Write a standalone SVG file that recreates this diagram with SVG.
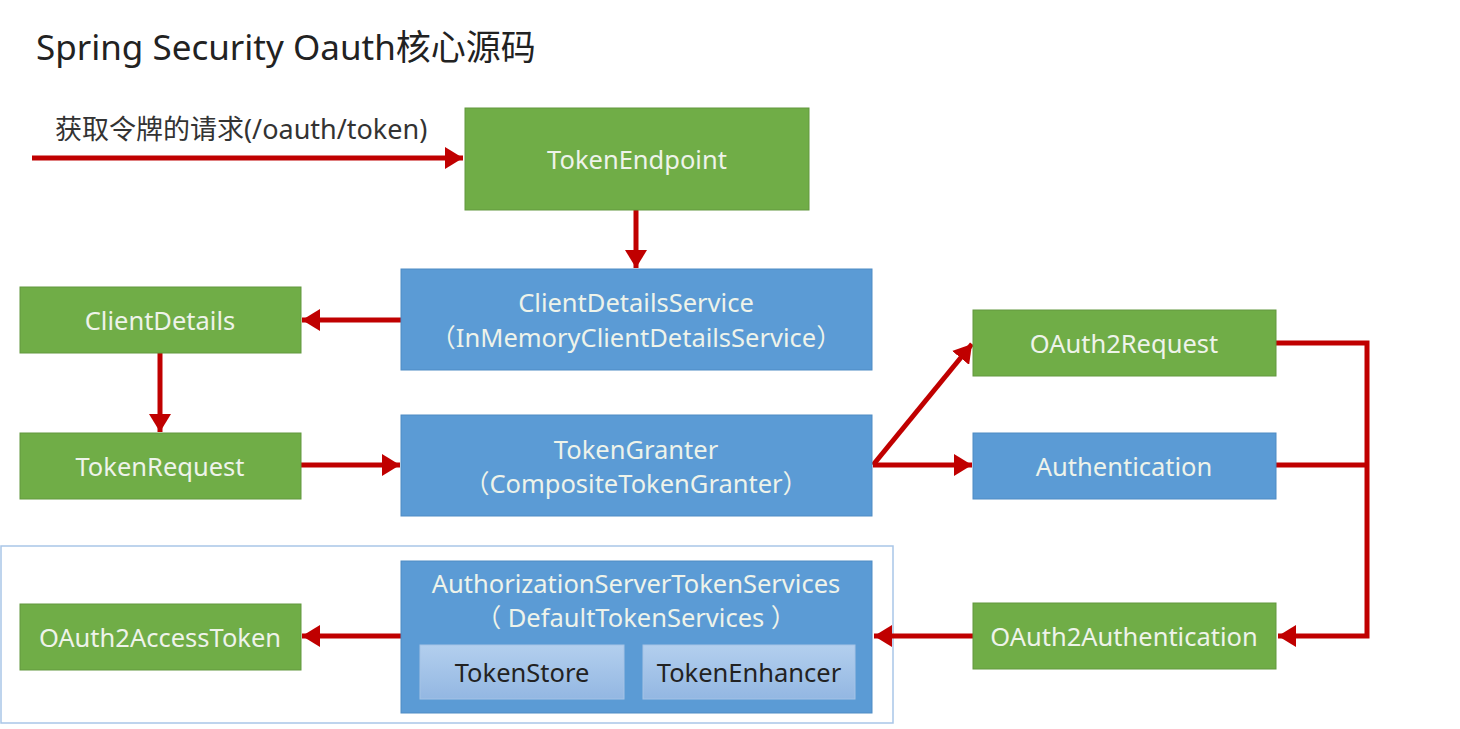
<svg xmlns="http://www.w3.org/2000/svg" width="1460" height="729" viewBox="0 0 1460 729">
<defs>
<marker id="ah" markerUnits="userSpaceOnUse" markerWidth="20" markerHeight="22" refX="18" refY="11" orient="auto">
<path d="M0,0 L18,11 L0,22 Z" fill="#c00000"/>
</marker>
<linearGradient id="inner" x1="0" y1="0" x2="0" y2="1">
<stop offset="0" stop-color="#b3cfee"/>
<stop offset="1" stop-color="#93b7e2"/>
</linearGradient>
</defs>
<style>
text{font-family:"Noto Sans","Noto Sans CJK SC",sans-serif}
.g{fill:#70ad47;stroke:#62983e;stroke-width:1}
.b{fill:#5b9bd5;stroke:#4f8bc4;stroke-width:1}
.in{fill:url(#inner);stroke:#a5c3e6;stroke-width:1}
.t{fill:#eef3ea;font-size:25.5px;text-anchor:middle}
.d{fill:#222;font-size:25.5px;text-anchor:middle}
.c{fill:none;stroke:#c00000;stroke-width:5}
</style>
<rect width="1460" height="729" fill="#ffffff"/>
<text x="36" y="60" font-size="35" fill="#222">Spring Security Oauth核心源码</text>
<text x="55" y="139" font-size="27" fill="#333">获取令牌的请求(/oauth/token)</text>
<rect x="1" y="546" width="892" height="177" fill="none" stroke="#a9c6e8" stroke-width="1.5"/>
<g id="connectors">
<line class="c" x1="32" y1="158" x2="463" y2="158" marker-end="url(#ah)"/>
<line class="c" x1="636" y1="210" x2="636" y2="268" marker-end="url(#ah)"/>
<line class="c" x1="401" y1="320" x2="302" y2="320" marker-end="url(#ah)"/>
<line class="c" x1="160" y1="353" x2="160" y2="432" marker-end="url(#ah)"/>
<line class="c" x1="301" y1="465" x2="400" y2="465" marker-end="url(#ah)"/>
<line class="c" x1="873" y1="465" x2="972" y2="344" marker-end="url(#ah)"/>
<line class="c" x1="873" y1="465" x2="972" y2="465" marker-end="url(#ah)"/>
<polyline class="c" points="1276,343 1367,343 1367,636 1278,636" marker-end="url(#ah)"/>
<line class="c" x1="1276" y1="465" x2="1367" y2="465"/>
<line class="c" x1="973" y1="636" x2="874" y2="636" marker-end="url(#ah)"/>
<line class="c" x1="401" y1="636" x2="302" y2="636" marker-end="url(#ah)"/>
</g>
<g id="TokenEndpoint"><rect class="g" x="465" y="108" width="344" height="102"/><text class="t" x="637" y="169">TokenEndpoint</text></g>
<g id="ClientDetailsService"><rect class="b" x="401" y="269" width="471" height="101"/><text class="t" x="636" y="312">ClientDetailsService</text><text class="t" x="636" y="347">（InMemoryClientDetailsService）</text></g>
<g id="ClientDetails"><rect class="g" x="20" y="287" width="281" height="66"/><text class="t" x="160" y="330">ClientDetails</text></g>
<g id="TokenRequest"><rect class="g" x="20" y="433" width="281" height="66"/><text class="t" x="160" y="476">TokenRequest</text></g>
<g id="TokenGranter"><rect class="b" x="401" y="415" width="471" height="101"/><text class="t" x="636" y="459">TokenGranter</text><text class="t" x="636" y="493">（CompositeTokenGranter）</text></g>
<g id="OAuth2Request"><rect class="g" x="973" y="310" width="303" height="66"/><text class="t" x="1124" y="353">OAuth2Request</text></g>
<g id="Authentication"><rect class="b" x="973" y="433" width="303" height="66"/><text class="t" x="1124" y="476">Authentication</text></g>
<g id="OAuth2Authentication"><rect class="g" x="973" y="603" width="303" height="66"/><text class="t" x="1124" y="646">OAuth2Authentication</text></g>
<g id="AuthorizationServerTokenServices"><rect class="b" x="401" y="561" width="471" height="152"/><text class="t" x="636" y="593">AuthorizationServerTokenServices</text><text class="t" x="636" y="627">（ DefaultTokenServices ）</text>
<g id="TokenStore"><rect class="in" x="420" y="645" width="204" height="54"/><text class="d" x="522" y="682">TokenStore</text></g>
<g id="TokenEnhancer"><rect class="in" x="643" y="645" width="212" height="54"/><text class="d" x="749" y="682">TokenEnhancer</text></g>
</g>
<g id="OAuth2AccessToken"><rect class="g" x="20" y="604" width="281" height="66"/><text class="t" x="160" y="647">OAuth2AccessToken</text></g>
</svg>
